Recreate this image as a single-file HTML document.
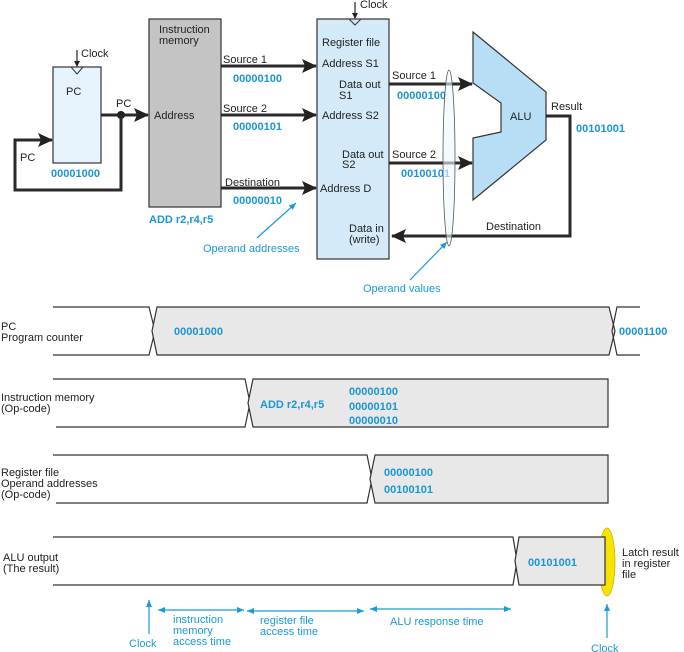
<!DOCTYPE html>
<html><head><meta charset="utf-8"><style>
html,body{margin:0;padding:0;background:#fff;}
svg{display:block;font-family:"Liberation Sans",Arial,sans-serif;}
.t{font-size:11px;fill:#222;}
.b{font-size:11px;fill:#1a95d5;font-weight:bold;}
.c{font-size:11px;fill:#1a9ad6;}
</style></head><body>
<svg width="684" height="652" viewBox="0 0 684 652" xmlns="http://www.w3.org/2000/svg">
<defs>
<marker id="ah" markerWidth="16" markerHeight="14" refX="14" refY="7" orient="auto" markerUnits="userSpaceOnUse"><path d="M0,0 L15,7 L0,14 L3,7 Z" fill="#222"/></marker>
<marker id="bh" markerWidth="8" markerHeight="8" refX="7" refY="4" orient="auto" markerUnits="userSpaceOnUse"><path d="M0,1 L7,4 L0,7 Z" fill="#1a9ad6"/></marker>
<marker id="bt" markerWidth="8" markerHeight="8" refX="1" refY="4" orient="auto" markerUnits="userSpaceOnUse"><path d="M8,1 L1,4 L8,7 Z" fill="#1a9ad6"/></marker>
</defs>

<!-- PC box -->
<rect x="53" y="67" width="48" height="96" fill="#e6f3fc" stroke="#333" stroke-width="1.2"/>
<path d="M71,67 L77,74 L83,67" fill="none" stroke="#333"/>
<line x1="77" y1="50" x2="77" y2="66" stroke="#222" stroke-width="1.2"/><path d="M74,61 L77,67 L80,61Z" fill="#222"/>
<text class="t" x="81" y="57">Clock</text>
<text class="t" x="66" y="95">PC</text>
<text class="b" x="51" y="177">00001000</text>
<line x1="101" y1="115" x2="148" y2="115" stroke="#2a2a2a" stroke-width="3" marker-end="url(#ah)"/>
<circle cx="121" cy="115" r="4" fill="#222"/>
<polyline points="121,115 121,190 15,190 15,140 52,140" fill="none" stroke="#2a2a2a" stroke-width="3" marker-end="url(#ah)"/>
<text class="t" x="116" y="107">PC</text>
<text class="t" x="20" y="161">PC</text>

<!-- Instruction memory -->
<rect x="149" y="19" width="72" height="188" fill="#c4c4c4" stroke="#333" stroke-width="1.2"/>
<text class="t" x="159" y="33">Instruction</text>
<text class="t" x="159" y="44">memory</text>
<text class="t" x="154" y="119">Address</text>
<text class="b" x="149" y="223">ADD r2,r4,r5</text>

<line x1="221" y1="66" x2="316" y2="66" stroke="#2a2a2a" stroke-width="3" marker-end="url(#ah)"/>
<line x1="221" y1="115" x2="316" y2="115" stroke="#2a2a2a" stroke-width="3" marker-end="url(#ah)"/>
<line x1="221" y1="188" x2="316" y2="188" stroke="#2a2a2a" stroke-width="3" marker-end="url(#ah)"/>
<text class="t" x="223" y="63">Source 1</text>
<text class="b" x="233" y="82">00000100</text>
<text class="t" x="223" y="112">Source 2</text>
<text class="b" x="233" y="130">00000101</text>
<text class="t" x="225" y="186">Destination</text>
<text class="b" x="233" y="204">00000010</text>
<line x1="257" y1="238" x2="296" y2="203" stroke="#1a9ad6" stroke-width="1.2" marker-end="url(#bh)"/>
<text class="c" x="203" y="252">Operand addresses</text>

<!-- Register file -->
<rect x="317" y="19" width="72" height="240" fill="#d4eaf8" stroke="#333" stroke-width="1.2"/>
<path d="M349,19 L355,25 L361,19" fill="none" stroke="#333"/>
<line x1="355" y1="2" x2="355" y2="18" stroke="#222" stroke-width="1.2"/><path d="M352,13 L355,19 L358,13Z" fill="#222"/>
<text class="t" x="360" y="8">Clock</text>
<text class="t" x="322" y="46">Register file</text>
<text class="t" x="322" y="67">Address S1</text>
<text class="t" x="339" y="88">Data out</text>
<text class="t" x="339" y="99">S1</text>
<text class="t" x="322" y="119">Address S2</text>
<text class="t" x="342" y="158">Data out</text>
<text class="t" x="342" y="168">S2</text>
<text class="t" x="320" y="192">Address D</text>
<text class="t" x="349" y="232">Data in</text>
<text class="t" x="349" y="243">(write)</text>

<line x1="389" y1="84" x2="472" y2="84" stroke="#2a2a2a" stroke-width="3" marker-end="url(#ah)"/>
<line x1="389" y1="163" x2="472" y2="163" stroke="#2a2a2a" stroke-width="3" marker-end="url(#ah)"/>
<text class="t" x="392" y="79">Source 1</text>
<text class="b" x="397" y="99">00000100</text>
<text class="t" x="392" y="158">Source 2</text>
<text class="b" x="401" y="177">00100101</text>

<!-- ALU -->
<polygon points="473,32 546,92 546,140 473,200 473,138 501,132 501,103 473,83" fill="#b8def5" stroke="#333" stroke-width="1.2"/>
<text class="t" x="510" y="120">ALU</text>
<polyline points="546,116 570,116 570,236 392,236" fill="none" stroke="#2a2a2a" stroke-width="3" marker-end="url(#ah)"/>
<text class="t" x="551" y="110">Result</text>
<text class="b" x="576" y="132">00101001</text>
<text class="t" x="486" y="230">Destination</text>
<ellipse cx="449" cy="158" rx="6" ry="88" fill="#eef6fc" fill-opacity="0.6" stroke="#555" stroke-width="0.8"/>
<line x1="410" y1="280" x2="447" y2="242" stroke="#1a9ad6" stroke-width="1.2" marker-end="url(#bh)"/>
<text class="c" x="363" y="292">Operand values</text>

<!-- Timing rows -->
<g stroke="#333" stroke-width="1.2">
<polyline points="53,307 149,307 155,331 149,355 53,355" fill="none"/>
<polygon points="157,307 609,307 615,331 609,355 157,355 152,331" fill="#e8e8e8"/>
<polyline points="640,307 617,307 612,331 617,355 640,355" fill="none"/>

<polyline points="53,379 245,379 250,403 245,427 56,427" fill="none"/>
<polygon points="253,379 608,379 608,427 253,427 248,403" fill="#e8e8e8"/>

<polyline points="53,455 367,455 372,479 367,503 56,503" fill="none"/>
<polygon points="375,455 608,455 608,503 375,503 370,479" fill="#e8e8e8"/>

<polyline points="53,537 513,537 517,561 513,585 53,585" fill="none"/>
</g>
<ellipse cx="607" cy="562" rx="8" ry="34" fill="#f5e400" stroke="#c8b400" stroke-width="0.8"/>
<polygon points="519,537 605,537 605,585 519,585 515,561" fill="#e8e8e8" stroke="#333" stroke-width="1.2"/>

<text class="t" x="1" y="330">PC</text>
<text class="t" x="1" y="341">Program counter</text>
<text class="b" x="174" y="335">00001000</text>
<text class="b" x="619" y="335">00001100</text>
<text class="t" x="1" y="401">Instruction memory</text>
<text class="t" x="1" y="412">(Op-code)</text>
<text class="b" x="260" y="408">ADD r2,r4,r5</text>
<text class="b" x="349" y="395">00000100</text>
<text class="b" x="349" y="410">00000101</text>
<text class="b" x="349" y="424">00000010</text>
<text class="t" x="1" y="476">Register file</text>
<text class="t" x="1" y="487">Operand addresses</text>
<text class="t" x="1" y="498">(Op-code)</text>
<text class="b" x="384" y="476">00000100</text>
<text class="b" x="384" y="493">00100101</text>
<text class="t" x="3" y="561">ALU output</text>
<text class="t" x="3" y="572">(The result)</text>
<text class="b" x="528" y="566">00101001</text>
<text class="t" x="622" y="556">Latch result</text>
<text class="t" x="622" y="567">in register</text>
<text class="t" x="622" y="578">file</text>

<g stroke="#1a9ad6" stroke-width="1.2">
<line x1="149" y1="634" x2="149" y2="600" marker-end="url(#bh)"/>
<line x1="607" y1="638" x2="607" y2="604" marker-end="url(#bh)"/>
<line x1="158" y1="610" x2="244" y2="610" marker-start="url(#bt)" marker-end="url(#bh)"/>
<line x1="247" y1="611" x2="364" y2="611" marker-start="url(#bt)" marker-end="url(#bh)"/>
<line x1="370" y1="609" x2="511" y2="609" marker-start="url(#bt)" marker-end="url(#bh)"/>
</g>
<text class="c" x="173" y="623">instruction</text>
<text class="c" x="173" y="634">memory</text>
<text class="c" x="173" y="645">access time</text>
<text class="c" x="260" y="624">register file</text>
<text class="c" x="260" y="635">access time</text>
<text class="c" x="390" y="625">ALU response time</text>
<text class="c" x="129" y="647">Clock</text>
<text class="c" x="591" y="652">Clock</text>
</svg>
</body></html>
